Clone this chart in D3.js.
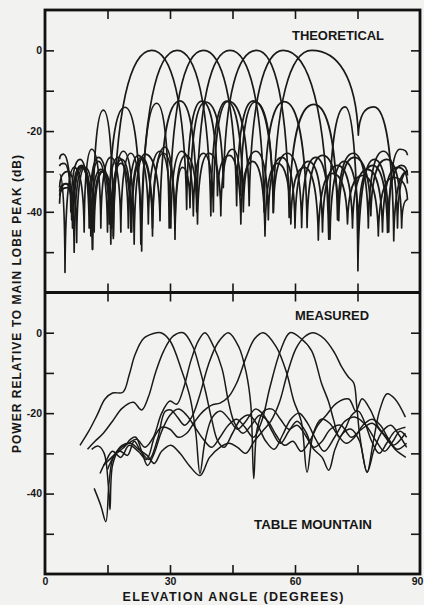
<!DOCTYPE html>
<html>
<head>
<meta charset="utf-8">
<script src="https://cdn.jsdelivr.net/npm/d3@7"></script>
<style>
  body { margin: 0; background: #f2f2f0; }
  svg { display: block; }
  text { font-family: "Liberation Sans", Arial, sans-serif; font-weight: bold; fill: #161616; }
</style>
</head>
<body>
<div id="chart"></div>
<script>
// axis ticks
var xTicks = [15, 30, 45, 60, 75];
var xTickLabels = [0, 30, 60, 90];
var yTicks = [0, -10, -20, -30, -40, -50];
var yTickLabels = [0, -20, -40];

// theoretical beams: [elevation deg, dB] at each lobe peak / null
var beam1 = [[3.5,-38],[5.0,-33],[6.6,-44],[8.8,-28.5],[11.4,-49.3],[14.0,-14.8],[16.4,-46.6],[25.6,0],[34.0,-39.4],[37.6,-12.6],[41.4,-36],[44.2,-26],[47,-43],[49.8,-27.5],[52.8,-46],[55.8,-28],[59,-43],[62.2,-29],[65.6,-47],[69,-30.5],[72.6,-43],[76.2,-31],[80,-46],[83.6,-31.5],[87,-37]];
var beam2 = [[3.5,-27],[4.4,-25.7],[6.2,-40],[8.4,-27],[10.6,-44],[12.8,-26.5],[15.4,-43],[19.2,-14.1],[23.0,-48],[31.7,0],[39.8,-41],[43.6,-12.6],[47.6,-40],[50.6,-25],[53.6,-42],[56.8,-26.5],[60,-44],[63.2,-27.5],[66.6,-45],[70.2,-28.5],[73.8,-44],[77.4,-29.5],[81,-45],[84.6,-29],[87,-33]];
var beam3 = [[3.5,-30.7],[4.8,-55],[7.0,-29],[9.4,-45],[11.2,-24.5],[13.4,-44],[15.8,-26.5],[18.2,-45],[20.6,-25.5],[23.2,-49.7],[26.8,-13.1],[29.8,-44],[38,0],[46,-38.5],[50,-12.5],[54.8,-40.2],[58.2,-25.5],[61.6,-43.9],[65,-26.5],[68.4,-46.8],[71.8,-27.5],[75.2,-44],[78.6,-28.5],[82.2,-45.1],[85.6,-28.5],[87,-31]];
var beam4 = [[3.5,-34],[5.6,-30],[7.6,-47.6],[9.6,-29],[11.8,-45],[14,-30],[16.4,-46],[18.8,-25],[21.4,-48],[24.0,-25.7],[27.6,-42.2],[32.4,-12.5],[36.4,-40],[44.4,0],[52.6,-40],[57.4,-12.7],[62.9,-43.9],[66.6,-26],[70.5,-42.2],[74.2,-26.5],[78.2,-41],[82,-27],[85.6,-44],[87,-37]];
var beam5 = [[3.5,-36],[5.4,-34],[7.0,-50],[9.2,-29],[11.4,-49.3],[13.6,-30],[16,-44],[18.4,-27],[20.8,-45],[23.2,-27],[25.8,-46],[28.8,-24],[31.2,-46.8],[33,-29],[34.8,-39],[38.5,-12.8],[42.8,-34],[50.8,0],[58.6,-41.4],[64.5,-13.4],[70.2,-42],[74,-25.5],[77.6,-44],[81.2,-25],[84.6,-44],[87,-30]];
var beam6 = [[3.5,-28.7],[4.6,-28],[6.4,-42],[8.6,-28.6],[10.8,-43],[12.8,-27.5],[15,-45],[17.6,-26.5],[20,-44],[22.4,-26],[24.8,-43],[27.6,-25],[30.2,-44],[32.8,-25],[35.6,-41],[38,-25.5],[40.4,-40],[44,-12.6],[49,-38.5],[57.2,0],[68.1,-46.8],[72,-14],[75.1,-54.6],[79,-27],[82.5,-45],[85.2,-24.5],[87,-26]];
var beam7 = [[3.5,-35],[5.2,-33],[6.8,-44],[8.8,-29],[11,-46],[13.4,-29.5],[15.8,-48],[18.2,-28],[20.6,-45],[23.2,-26.5],[25.8,-44],[28.4,-25.5],[31.2,-44],[33.8,-26],[36.6,-43],[39.4,-25.5],[42.2,-41],[45,-24.5],[47,-36],[50.5,-12.8],[54.8,-40.2],[64,0],[75.2,-21],[78.9,-14],[83.7,-47.2],[87,-30]];

// measured (Table Mountain) patterns: [elevation deg, dB]
var meas1 = [[8.4,-28],[10.5,-24.5],[12.5,-20.5],[14.4,-16.5],[16.2,-15],[18.7,-14.8],[20.2,-10.5],[21.6,-5.5],[23.6,-1.5],[26,-0.2],[27.8,0],[30,-2],[32.8,-9.4],[34.8,-16],[36.2,-25],[37.2,-35],[38.4,-27],[40.2,-21],[42.2,-19.5],[44.2,-21.5],[46.2,-24],[48.2,-22],[50.5,-19],[52.5,-20.5],[54.5,-24.5],[56.5,-27.5],[58.5,-24.5],[60.5,-22],[62.5,-24.5],[64.5,-28.5],[66.5,-27],[68.5,-24],[71,-23],[73.5,-26],[76,-24],[78.5,-22.5],[81,-25],[83.5,-28],[86.5,-25]];
var meas2 = [[10.2,-29],[12,-27],[14,-25],[16.2,-22],[18.5,-18.8],[21.2,-17.3],[23.2,-19.2],[24.8,-16],[26.5,-10],[28.5,-4.5],[30.8,-0.8],[33.2,0],[35.5,-3.5],[37,-8.5],[38.5,-14.5],[40,-21.5],[41.5,-27],[43,-28.5],[45,-25],[47,-21.5],[49,-20.5],[51,-23],[53,-27],[55,-29],[57,-25.5],[59,-21.5],[61,-20],[63,-22.5],[65,-26.5],[67,-29.5],[69.5,-26],[72,-22],[74.5,-21],[77,-23],[79.5,-27],[81.5,-29.5],[83.5,-27],[85.2,-24.5],[86.8,-26]];
var meas3 = [[11.2,-29],[12.8,-28.2],[14.2,-30],[15.2,-38],[15.6,-44],[16.2,-33],[17.8,-29],[20,-27.5],[22,-26.5],[24,-28.5],[26,-26],[28,-20],[30,-17],[31.6,-17.8],[33.2,-14],[35,-7],[36.8,-2],[38.4,0],[40.5,-3.5],[42.5,-9],[44,-17],[45.5,-22.5],[47.5,-25],[49.5,-23],[51.5,-20.5],[53.5,-22],[55.5,-25.5],[57.5,-28],[59.5,-27],[61.5,-29.5],[63.5,-27],[65.5,-23],[67.5,-20.5],[70,-17.5],[72.9,-16.5],[74.6,-19.5],[76.1,-16.4],[78,-19],[80,-23.5],[82,-26],[84,-29],[86.6,-31]];
var meas4 = [[11.8,-38.7],[13.4,-43],[14.6,-47],[15.4,-37],[16.4,-31],[18,-29.5],[19.8,-30.5],[21.4,-27],[23,-29.5],[25,-31.5],[27,-26.5],[28.8,-19.6],[30.2,-19.2],[31.8,-21],[33.5,-23],[35.2,-21],[37,-16],[39.2,-8],[41.5,-2.5],[44,0],[46.5,-3.5],[48.3,-10],[49.4,-18],[50.1,-36.3],[50.9,-24],[52.5,-19.5],[54.5,-19],[56.5,-21.5],[58.5,-24],[60.5,-23],[62.5,-25.5],[64.5,-29],[66.5,-31],[68.1,-34.2],[69.6,-29],[71.5,-25],[73.5,-24],[75.5,-27],[77.3,-34.7],[79,-29],[81,-24.5],[83,-23],[85,-25.5],[86.8,-28.5]];
var meas5 = [[13.2,-35],[14.6,-32],[16.2,-29.5],[18.2,-31],[20.2,-28],[22.4,-29.5],[24.4,-31.5],[26.4,-25.6],[28,-23.5],[30,-24],[32,-26],[34,-25],[36,-22],[38,-19.5],[40,-18],[42,-17.5],[44,-16],[46,-12.5],[48.3,-6],[50.3,-1.5],[52.4,0],[55.5,-3.5],[58,-10],[59.7,-16.9],[61.5,-22],[62.9,-34.7],[64.4,-25],[66.3,-21.5],[68.3,-22.5],[70.3,-25.5],[72.3,-27.5],[74.3,-26],[76.3,-23],[78.5,-21.5],[80.5,-23],[82.5,-26.5],[84.5,-29],[86.8,-27.5]];
var meas6 = [[14,-33],[15.5,-31.5],[17,-30],[19,-28.5],[20.5,-26.5],[21.8,-26],[23.2,-29.5],[24.6,-33],[26.2,-30],[28,-24.5],[30,-20.5],[32,-19],[34,-20.5],[36,-23.5],[38,-26.5],[40,-28.5],[42,-26],[44,-23],[46,-21.5],[48,-23.5],[50,-26],[52,-22],[54,-13.5],[56.5,-4.5],[58.8,0],[61.5,-1.5],[64,-4.5],[66.4,-12.7],[68,-17],[69.3,-21.8],[70.6,-26],[72,-24],[73.6,-20.5],[75.2,-19.5],[76.8,-22.5],[78.4,-27],[80.2,-30],[82,-27.5],[84,-24.5],[86.5,-23.5]];
var meas7 = [[15,-34],[16.6,-30.5],[18.5,-28],[20.5,-27.5],[22.5,-29],[24.5,-30.5],[26.2,-32.5],[28,-29.5],[30.2,-28],[32.4,-30],[34.6,-33],[37.2,-35.5],[39.5,-31],[42,-28.5],[44.2,-27.5],[46.2,-28.5],[48.2,-30],[50.2,-27],[52.2,-24.5],[54.2,-22],[56.2,-17.5],[58.2,-10],[60.2,-4],[62.3,-1],[64.4,0],[67,-1.5],[69.5,-5],[71.2,-8.5],[72.8,-11],[74.1,-12.5],[74.8,-18],[75.6,-26],[77.3,-34.7],[78.8,-27],[80.4,-19],[82.1,-15.2],[84,-16.5],[86.5,-21]];

var theoretical = [beam1, beam2, beam3, beam4, beam5, beam6, beam7];
var measured = [meas1, meas2, meas3, meas4, meas5, meas6, meas7];

var width = 424, height = 605;
var plotLeft = 45, plotRight = 420, plotTop = 10, plotMid = 292.5, plotBottom = 574;

var svg = d3.select("#chart").append("svg")
    .attr("width", width)
    .attr("height", height);

var x = d3.scaleLinear().domain([0, 90]).range([plotLeft, plotRight]);
var yTop = d3.scaleLinear().domain([-60, 10]).range([plotMid, plotTop]);
var yBot = d3.scaleLinear().domain([-60, 10]).range([plotBottom, plotMid]);

// curve through lobe peaks and nulls: round over a peak, sharp at a null
function LobeCurve(context) { this._context = context; }
LobeCurve.prototype = {
    areaStart: function() {},
    areaEnd: function() {},
    lineStart: function() { this._point = 0; },
    lineEnd: function() {},
    point: function(px, py) {
        px = +px; py = +py;
        if (!this._point) {
            this._point = 1;
            this._context.moveTo(px, py);
        } else {
            var x0 = this._x0, y0 = this._y0, dx = px - x0, dy = py - y0;
            if (y0 > py) {
                // rising out of a null
                this._context.bezierCurveTo(x0 + dx * 0.05, y0 + dy * 0.7, x0 + dx * 0.45, py, px, py);
            } else {
                // falling into a null
                this._context.bezierCurveTo(x0 + dx * 0.55, y0, px - dx * 0.05, py - dy * 0.7, px, py);
            }
        }
        this._x0 = px; this._y0 = py;
    }
};
var curveLobe = function(context) { return new LobeCurve(context); };

svg.append("clipPath").attr("id", "clip-top")
    .append("rect").attr("x", plotLeft).attr("y", plotTop).attr("width", plotRight - plotLeft).attr("height", plotMid - plotTop);
svg.append("clipPath").attr("id", "clip-bot")
    .append("rect").attr("x", plotLeft).attr("y", plotMid).attr("width", plotRight - plotLeft).attr("height", plotBottom - plotMid);

var lineTop = d3.line()
    .x(function(d) { return x(d[0]); })
    .y(function(d) { return yTop(d[1]); })
    .curve(curveLobe);

var lineBot = d3.line()
    .x(function(d) { return x(d[0]); })
    .y(function(d) { return yBot(d[1]); })
    .curve(d3.curveCatmullRom.alpha(0.5));

svg.append("g").attr("clip-path", "url(#clip-top)")
    .selectAll("path").data(theoretical).enter().append("path")
    .attr("d", lineTop)
    .attr("fill", "none")
    .attr("stroke", "#1a1a1a")
    .attr("stroke-width", 1.7)
    .attr("stroke-linejoin", "round");

svg.append("g").attr("clip-path", "url(#clip-bot)")
    .selectAll("path").data(measured).enter().append("path")
    .attr("d", lineBot)
    .attr("fill", "none")
    .attr("stroke", "#1a1a1a")
    .attr("stroke-width", 1.5)
    .attr("stroke-linejoin", "round");

// axes: ticks point inward
function styleAxis(g) {
    g.select(".domain").remove();
    g.selectAll(".tick line").attr("stroke", "#161616").attr("stroke-width", 1.6);
    g.selectAll("text").attr("fill", "#161616").style("font-size", "10.5px");
}

var yFormat = function(d) { return yTickLabels.indexOf(d) >= 0 ? String(d) : ""; };

[yTop, yBot].forEach(function(y) {
    svg.append("g").attr("transform", "translate(" + plotLeft + ",0)")
        .call(d3.axisLeft(y).tickValues(yTicks).tickSizeInner(-9).tickSizeOuter(0).tickPadding(3).tickFormat(yFormat))
        .call(styleAxis);
    svg.append("g").attr("transform", "translate(" + plotRight + ",0)")
        .call(d3.axisRight(y).tickValues(yTicks).tickSizeInner(-9).tickSizeOuter(0).tickFormat(""))
        .call(styleAxis);
});

svg.append("g").attr("transform", "translate(0," + plotTop + ")")
    .call(d3.axisTop(x).tickValues(xTicks).tickSizeInner(-9).tickSizeOuter(0).tickFormat(""))
    .call(styleAxis);
svg.append("g").attr("transform", "translate(0," + plotMid + ")")
    .call(d3.axisBottom(x).tickValues(xTicks).tickSizeInner(-9).tickSizeOuter(0).tickFormat(""))
    .call(styleAxis);
svg.append("g").attr("transform", "translate(0," + plotMid + ")")
    .call(d3.axisTop(x).tickValues(xTicks).tickSizeInner(-9).tickSizeOuter(0).tickFormat(""))
    .call(styleAxis);
svg.append("g").attr("transform", "translate(0," + plotBottom + ")")
    .call(d3.axisBottom(x).tickValues(xTicks).tickSizeInner(-9).tickSizeOuter(0).tickFormat(""))
    .call(styleAxis);
svg.append("g").attr("transform", "translate(0," + plotBottom + ")")
    .call(d3.axisBottom(x).tickValues(xTickLabels).tickSize(0).tickPadding(4).tickFormat(d3.format("d")))
    .call(styleAxis)
    .selectAll(".tick text")
    .attr("dx", function(d) { return d === 90 ? -3 : 0; });

// frame and divider
svg.append("rect")
    .attr("x", plotLeft).attr("y", plotTop)
    .attr("width", plotRight - plotLeft).attr("height", plotBottom - plotTop)
    .attr("fill", "none").attr("stroke", "#111").attr("stroke-width", 2.8);
svg.append("line")
    .attr("x1", plotLeft).attr("x2", plotRight).attr("y1", plotMid).attr("y2", plotMid)
    .attr("stroke", "#111").attr("stroke-width", 2.8);

// titles and panel labels
svg.append("text")
    .attr("x", 233).attr("y", 601)
    .attr("text-anchor", "middle")
    .attr("textLength", 221).attr("lengthAdjust", "spacing")
    .style("font-size", "12.5px")
    .text("ELEVATION ANGLE (DEGREES)");

svg.append("text")
    .attr("transform", "translate(21,304) rotate(-90)")
    .attr("text-anchor", "middle")
    .attr("textLength", 298).attr("lengthAdjust", "spacing")
    .style("font-size", "12px")
    .text("POWER RELATIVE TO MAIN LOBE PEAK (dB)");

svg.append("text").attr("x", 292).attr("y", 40)
    .attr("textLength", 92).attr("lengthAdjust", "spacingAndGlyphs")
    .style("font-size", "12.5px").text("THEORETICAL");
svg.append("text").attr("x", 295).attr("y", 320)
    .attr("textLength", 74).attr("lengthAdjust", "spacingAndGlyphs")
    .style("font-size", "12.5px").text("MEASURED");
svg.append("text").attr("x", 254).attr("y", 529)
    .attr("textLength", 118).attr("lengthAdjust", "spacingAndGlyphs")
    .style("font-size", "12.5px").text("TABLE MOUNTAIN");
</script>
</body>
</html>
